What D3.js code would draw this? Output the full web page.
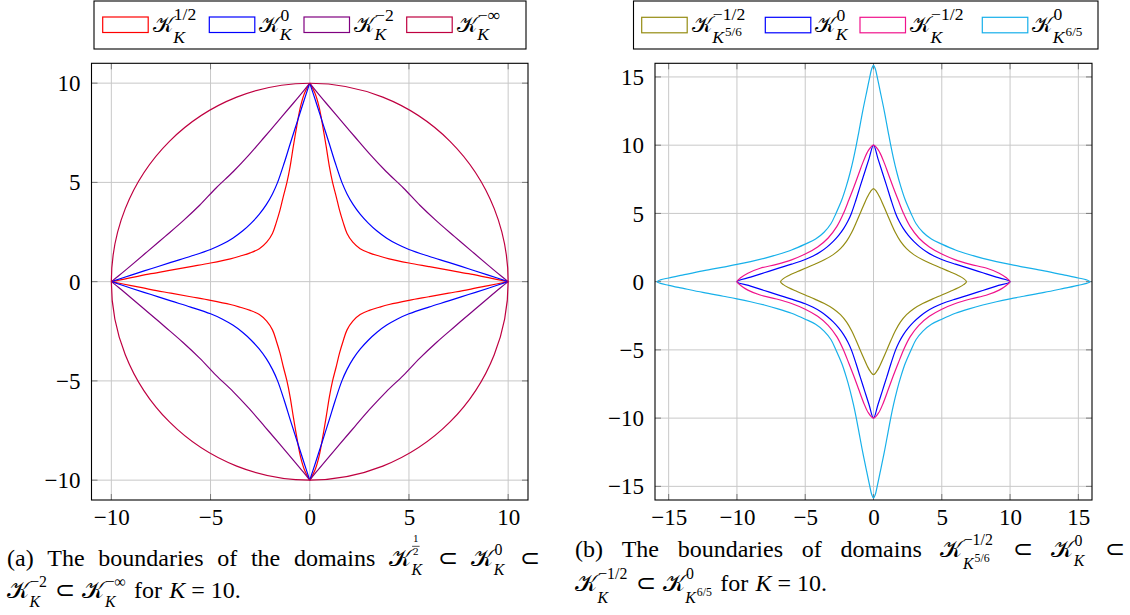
<!DOCTYPE html>
<html><head><meta charset="utf-8">
<script src="https://cdn.jsdelivr.net/npm/d3@7/dist/d3.min.js"></script>
<style>
body{margin:0;background:#fff}
svg{display:block}
text{font-family:'Liberation Serif','Times New Roman',serif;fill:#000}
</style>
</head><body>
<svg id="c" width="1130" height="615"></svg>
<script>
// ================= DATA =================
const leftTicks = [-10, -5, 0, 5, 10];
const rightTicks = [-15, -10, -5, 0, 5, 10, 15];
const leftDomain = [-11, 11];
const rightDomain = [-16, 16];
const circleRadius = 10;   // boundary of K_K^{-inf}, K = 10

// first-quadrant boundary points (x, y), from the x-axis vertex to the y-axis vertex
const halfK = [[10,0],[9,0.2],[8,0.4],[7,0.58],[6,0.76],[5,0.94],[4,1.15],[3.5,1.29],[3,1.45],[2.54,1.66],[2.17,1.99],[1.88,2.43],[1.68,3],[1.5,3.6],[1.33,4.3],[1.15,5],[0.99,5.8],[0.83,6.8],[0.66,7.8],[0.47,8.8],[0.26,9.5],[0,10]];
const zeroK = [[10,0],[9,0.33],[8,0.65],[7,0.97],[6,1.28],[5,1.62],[4.42,1.88],[3.88,2.19],[3.39,2.55],[2.95,2.95],[2.55,3.39],[2.19,3.88],[1.88,4.42],[1.62,5],[1.28,6],[0.97,7],[0.65,8],[0.33,9],[0,10]];
const minus2K = [[10,0],[9.6,0.32],[9.0,0.82],[8.2,1.5],[7.3,2.27],[6.4,3.05],[5.55,3.85],[4.72,4.72],[3.85,5.55],[3.05,6.4],[2.27,7.3],[1.5,8.2],[0.82,9.0],[0.32,9.6],[0,10]];
const minusHalfK56 = [[6.81,0],[6.6,0.22],[6.2,0.45],[5.6,0.72],[5,0.98],[4.3,1.28],[3.6,1.6],[2.95,1.98],[2.42,2.42],[1.98,2.95],[1.6,3.6],[1.28,4.3],[0.98,5],[0.72,5.6],[0.45,6.2],[0.22,6.6],[0,6.81]];
const minusHalfK = [[10,0],[9.7,0.3],[9.2,0.62],[8.3,0.98],[7.1,1.27],[6,1.6],[5,2.02],[4.09,2.54],[3.32,3.2],[2.69,4.03],[2.2,5],[1.8,6],[1.45,6.9],[1.1,7.85],[0.73,8.85],[0.37,9.62],[0,10]];
const zeroK65 = [[15.85,0],[15.6,0.13],[15,0.27],[14,0.48],[12.5,0.79],[11,1.07],[10,1.26],[9,1.47],[8,1.71],[7,1.99],[6,2.32],[5,2.75],[4.24,3.12],[3.62,3.62],[3.12,4.24],[2.75,5],[2.32,6],[1.99,7],[1.71,8],[1.47,9],[1.26,10],[1.07,11],[0.79,12.5],[0.48,14],[0.27,15],[0.13,15.6],[0,15.85]];

// legend labels: K with superscript / subscript
const leftLabels = [{sup:"1/2",sub:"K"},{sup:"0",sub:"K"},{sup:"\u22122",sub:"K"},{sup:"\u2212\u221E",sub:"K"}];
const rightLabels = [{sup:"\u22121/2",sub:"K",subsup:"5/6"},{sup:"0",sub:"K"},{sup:"\u22121/2",sub:"K"},{sup:"0",sub:"K",subsup:"6/5"}];

// ================= STYLE / LAYOUT =================
const leftColors = ["#ff0000","#0000ff","#800080","#bf0040"];
const rightColors = ["#958c12","#0000ff","#f0138c","#17b0ea"];
const FONT = "'Liberation Serif','Times New Roman',serif";
const CALFONT = "'DejaVu Serif','DejaVu Sans','Noto Sans',serif";

const svg = d3.select("#c");

function glyphOK(ch){
  const c = document.createElement("canvas").getContext("2d");
  c.font = "40px " + CALFONT;
  const a = c.measureText(ch).width, b = c.measureText("\u{1D4A0}").width;
  return Math.abs(a-b) > 0.5;
}
const calOK = glyphOK("\u{1D4A6}");
const CAL = calOK ? "\u{1D4A6}" : "K";

function tw(sel){ return sel.node().getComputedTextLength(); }

// draws K^{sup}_{sub} with baseline at y=0, x=0 inside g; returns width
function math(g, m, fs, ssr, supR){
  const base = g.append("text").attr("font-size", fs)
    .style("font-family", calOK ? CALFONT : FONT)
    .style("font-style", calOK ? "normal" : "italic").text(CAL);
  const bw = tw(base);
  const ss = fs * (ssr || 0.72);
  let supEnd = bw, subEnd = bw;
  const sx = bw + fs*0.05;
  const deep = !!m.subsup || (typeof m.sup === "string" && m.sup.includes("/"));
  if (m.sup && typeof m.sup === "object"){
    const fz = fs * 0.46;
    const n = g.append("text").attr("font-size", fz).attr("text-anchor","middle").text(m.sup.num);
    const d = g.append("text").attr("font-size", fz).attr("text-anchor","middle").text(m.sup.den);
    const fw = Math.max(tw(n), tw(d)) + 2;
    const cx = sx + fw/2;
    n.attr("x", cx).attr("y", -fs*1.0);
    d.attr("x", cx).attr("y", -fs*0.47);
    g.append("line").attr("x1", sx).attr("x2", sx+fw).attr("y1", -fs*0.82).attr("y2", -fs*0.82)
      .attr("stroke","#000").attr("stroke-width",0.7);
    supEnd = sx + fw;
  } else if (m.sup){
    const r = supR || 0.5;
    const t = g.append("text").attr("x", sx).attr("y", deep ? -fs*(r+0.06) : -fs*r).attr("font-size", ss).text(m.sup);
    supEnd = sx + tw(t);
  }
  if (m.sub){
    const bx = bw + 0.5;
    const sy = deep ? fs*0.5 : fs*0.36;
    const t = g.append("text").attr("x", bx).attr("y", sy).attr("font-size", ss).style("font-style","italic").text(m.sub);
    subEnd = bx + tw(t) + 1;
    if (m.subsup){
      const t2 = g.append("text").attr("x", subEnd).attr("y", sy - ss*0.42).attr("font-size", ss*0.75).text(m.subsup);
      subEnd += tw(t2);
    }
  }
  return Math.max(bw, supEnd, subEnd) + 1;
}

// ============ PANELS ============
const panels = [
  {x0:91.5, x1:528, y0:63.3, y1:500, domain:leftDomain, ticks:leftTicks},
  {x0:655, x1:1092, y0:63.3, y1:500, domain:rightDomain, ticks:rightTicks}
];
const fmt = d => d < 0 ? "\u2212" + Math.abs(d) : String(d);

panels.forEach((p, i) => {
  p.x = d3.scaleLinear().domain(p.domain).range([p.x0, p.x1]);
  p.y = d3.scaleLinear().domain(p.domain).range([p.y1, p.y0]);
  const g = svg.append("g");
  g.selectAll(".gx").data(p.ticks).join("line")
    .attr("x1", d => p.x(d)).attr("x2", d => p.x(d)).attr("y1", p.y0).attr("y2", p.y1)
    .attr("stroke", "#c8c8c8").attr("stroke-width", 1);
  g.selectAll(".gy").data(p.ticks).join("line")
    .attr("y1", d => p.y(d)).attr("y2", d => p.y(d)).attr("x1", p.x0).attr("x2", p.x1)
    .attr("stroke", "#c8c8c8").attr("stroke-width", 1);
  const tl = 6, tc = "#7a7a7a";
  p.ticks.forEach(t => {
    [[p.x(t), p.y1, p.x(t), p.y1 - tl], [p.x(t), p.y0, p.x(t), p.y0 + tl],
     [p.x0, p.y(t), p.x0 + tl, p.y(t)], [p.x1, p.y(t), p.x1 - tl, p.y(t)]].forEach(c =>
      g.append("line").attr("x1", c[0]).attr("y1", c[1]).attr("x2", c[2]).attr("y2", c[3])
        .attr("stroke", tc).attr("stroke-width", 1));
  });
  svg.append("clipPath").attr("id", "clip" + i).append("rect")
    .attr("x", p.x0).attr("y", p.y0).attr("width", p.x1 - p.x0).attr("height", p.y1 - p.y0);
  p.plot = svg.append("g").attr("clip-path", `url(#clip${i})`);
});

const quads = [[1,1],[-1,1],[-1,-1],[1,-1]];

// left panel: each quadrant arc drawn separately (cusps at vertices)
(function(){
  const p = panels[0];
  const line = d3.line().x(d => p.x(d[0])).y(d => p.y(d[1])).curve(d3.curveCatmullRom.alpha(0.5));
  [halfK, zeroK, minus2K].forEach((arr, k) => {
    quads.forEach(([sx, sy]) => {
      p.plot.append("path").attr("d", line(arr.map(d => [d[0]*sx, d[1]*sy])))
        .attr("fill", "none").attr("stroke", leftColors[k]).attr("stroke-width", 1.2);
    });
  });
  p.plot.append("circle").attr("cx", p.x(0)).attr("cy", p.y(0)).attr("r", p.x(circleRadius) - p.x(0))
    .attr("fill", "none").attr("stroke", leftColors[3]).attr("stroke-width", 1.2);
})();

// right panel: closed smooth loops
function loop(q){
  const q2 = q.slice().reverse().map(d => [-d[0], d[1]]).slice(1);
  const q3 = q.map(d => [-d[0], -d[1]]).slice(1);
  const q4 = q.slice().reverse().map(d => [d[0], -d[1]]).slice(1, -1);
  return q.concat(q2, q3, q4);
}
(function(){
  const p = panels[1];
  const line = d3.line().x(d => p.x(d[0])).y(d => p.y(d[1])).curve(d3.curveCatmullRomClosed.alpha(0.5));
  [minusHalfK56, zeroK, minusHalfK, zeroK65].forEach((arr, k) => {
    p.plot.append("path").attr("d", line(loop(arr)))
      .attr("fill", "none").attr("stroke", rightColors[k]).attr("stroke-width", 1.2);
  });
})();

// frames and axis labels
panels.forEach(p => {
  svg.append("rect").attr("x", p.x0).attr("y", p.y0).attr("width", p.x1 - p.x0).attr("height", p.y1 - p.y0)
    .attr("fill", "none").attr("stroke", "#000").attr("stroke-width", 1.1);
  svg.append("g").attr("transform", `translate(0,${p.y1})`)
    .call(d3.axisBottom(p.x).tickValues(p.ticks).tickSize(0).tickFormat(fmt))
    .call(a => { a.select(".domain").remove();
      a.selectAll("text").attr("y", 25).attr("dy", null).attr("font-size", 23)
        .attr("font-family", FONT).attr("fill", "#000"); });
  svg.append("g").attr("transform", `translate(${p.x0},0)`)
    .call(d3.axisLeft(p.y).tickValues(p.ticks).tickSize(0).tickPadding(11).tickFormat(fmt))
    .call(a => { a.select(".domain").remove();
      a.selectAll("text").attr("font-size", 23).attr("dy", "0.33em")
        .attr("font-family", FONT).attr("fill", "#000"); });
});

// legends
function legend(box, swX, swY, labels, colors){
  svg.append("rect").attr("x", box[0]).attr("y", box[1]).attr("width", box[2]).attr("height", box[3])
    .attr("fill", "#fff").attr("stroke", "#000").attr("stroke-width", 1.1);
  labels.forEach((lab, k) => {
    svg.append("rect").attr("x", swX[k]).attr("y", swY).attr("width", 45.5).attr("height", 15.5)
      .attr("fill", "#fff").attr("stroke", colors[k]).attr("stroke-width", 1.2);
    const g = svg.append("g").attr("transform", `translate(${swX[k] + 50},32)`);
    math(g, lab, 22, 0.8);
  });
}
legend([94, 1, 432, 48], [102.7, 209.3, 304, 406.7], 17, leftLabels, leftColors);
legend([633.5, 1, 464.5, 48], [641.7, 765.3, 860, 982.3], 17.3, rightLabels, rightColors);

// captions
function token(g, tok, fs){
  if (tok.m) return math(g, tok.m, fs, 0.66, 0.45);
  const t = g.append("text").attr("font-size", fs);
  if (tok.k){
    t.append("tspan").style("font-style", "italic").text("K");
    t.append("tspan").text(" = 10.");
  } else t.text(tok.t);
  return tw(t);
}
function captionLine(tokens, x0, base, width, fs){
  const items = tokens.map(tok => { const g = svg.append("g"); return {g, w: token(g, tok, fs)}; });
  const total = d3.sum(items, d => d.w);
  const gap = width ? (width - total) / (items.length - 1) : fs * 0.3;
  let x = x0;
  items.forEach(it => { it.g.attr("transform", `translate(${x},${base})`); x += it.w + gap; });
}
const capA1 = [{t:"(a)"},{t:"The"},{t:"boundaries"},{t:"of"},{t:"the"},{t:"domains"},
  {m:{sup:{num:"1",den:"2"},sub:"K"}},{t:"\u2282"},{m:{sup:"0",sub:"K"}},{t:"\u2282"}];
const capA2 = [{m:{sup:"\u22122",sub:"K"}},{t:"\u2282"},{m:{sup:"\u2212\u221E",sub:"K"}},{t:"for"},{k:true}];
const capB1 = [{t:"(b)"},{t:"The"},{t:"boundaries"},{t:"of"},{t:"domains"},
  {m:{sup:"\u22121/2",sub:"K",subsup:"5/6"}},{t:"\u2282"},{m:{sup:"0",sub:"K"}},{t:"\u2282"}];
const capB2 = [{m:{sup:"\u22121/2",sub:"K"}},{t:"\u2282"},{m:{sup:"0",sub:"K",subsup:"6/5"}},{t:"for"},{k:true}];
captionLine(capA1, 7, 566, 533, 24);
captionLine(capA2, 7, 598, null, 24);
captionLine(capB1, 575, 557, 550, 24);
captionLine(capB2, 575, 591, null, 24);
</script>
</body></html>
